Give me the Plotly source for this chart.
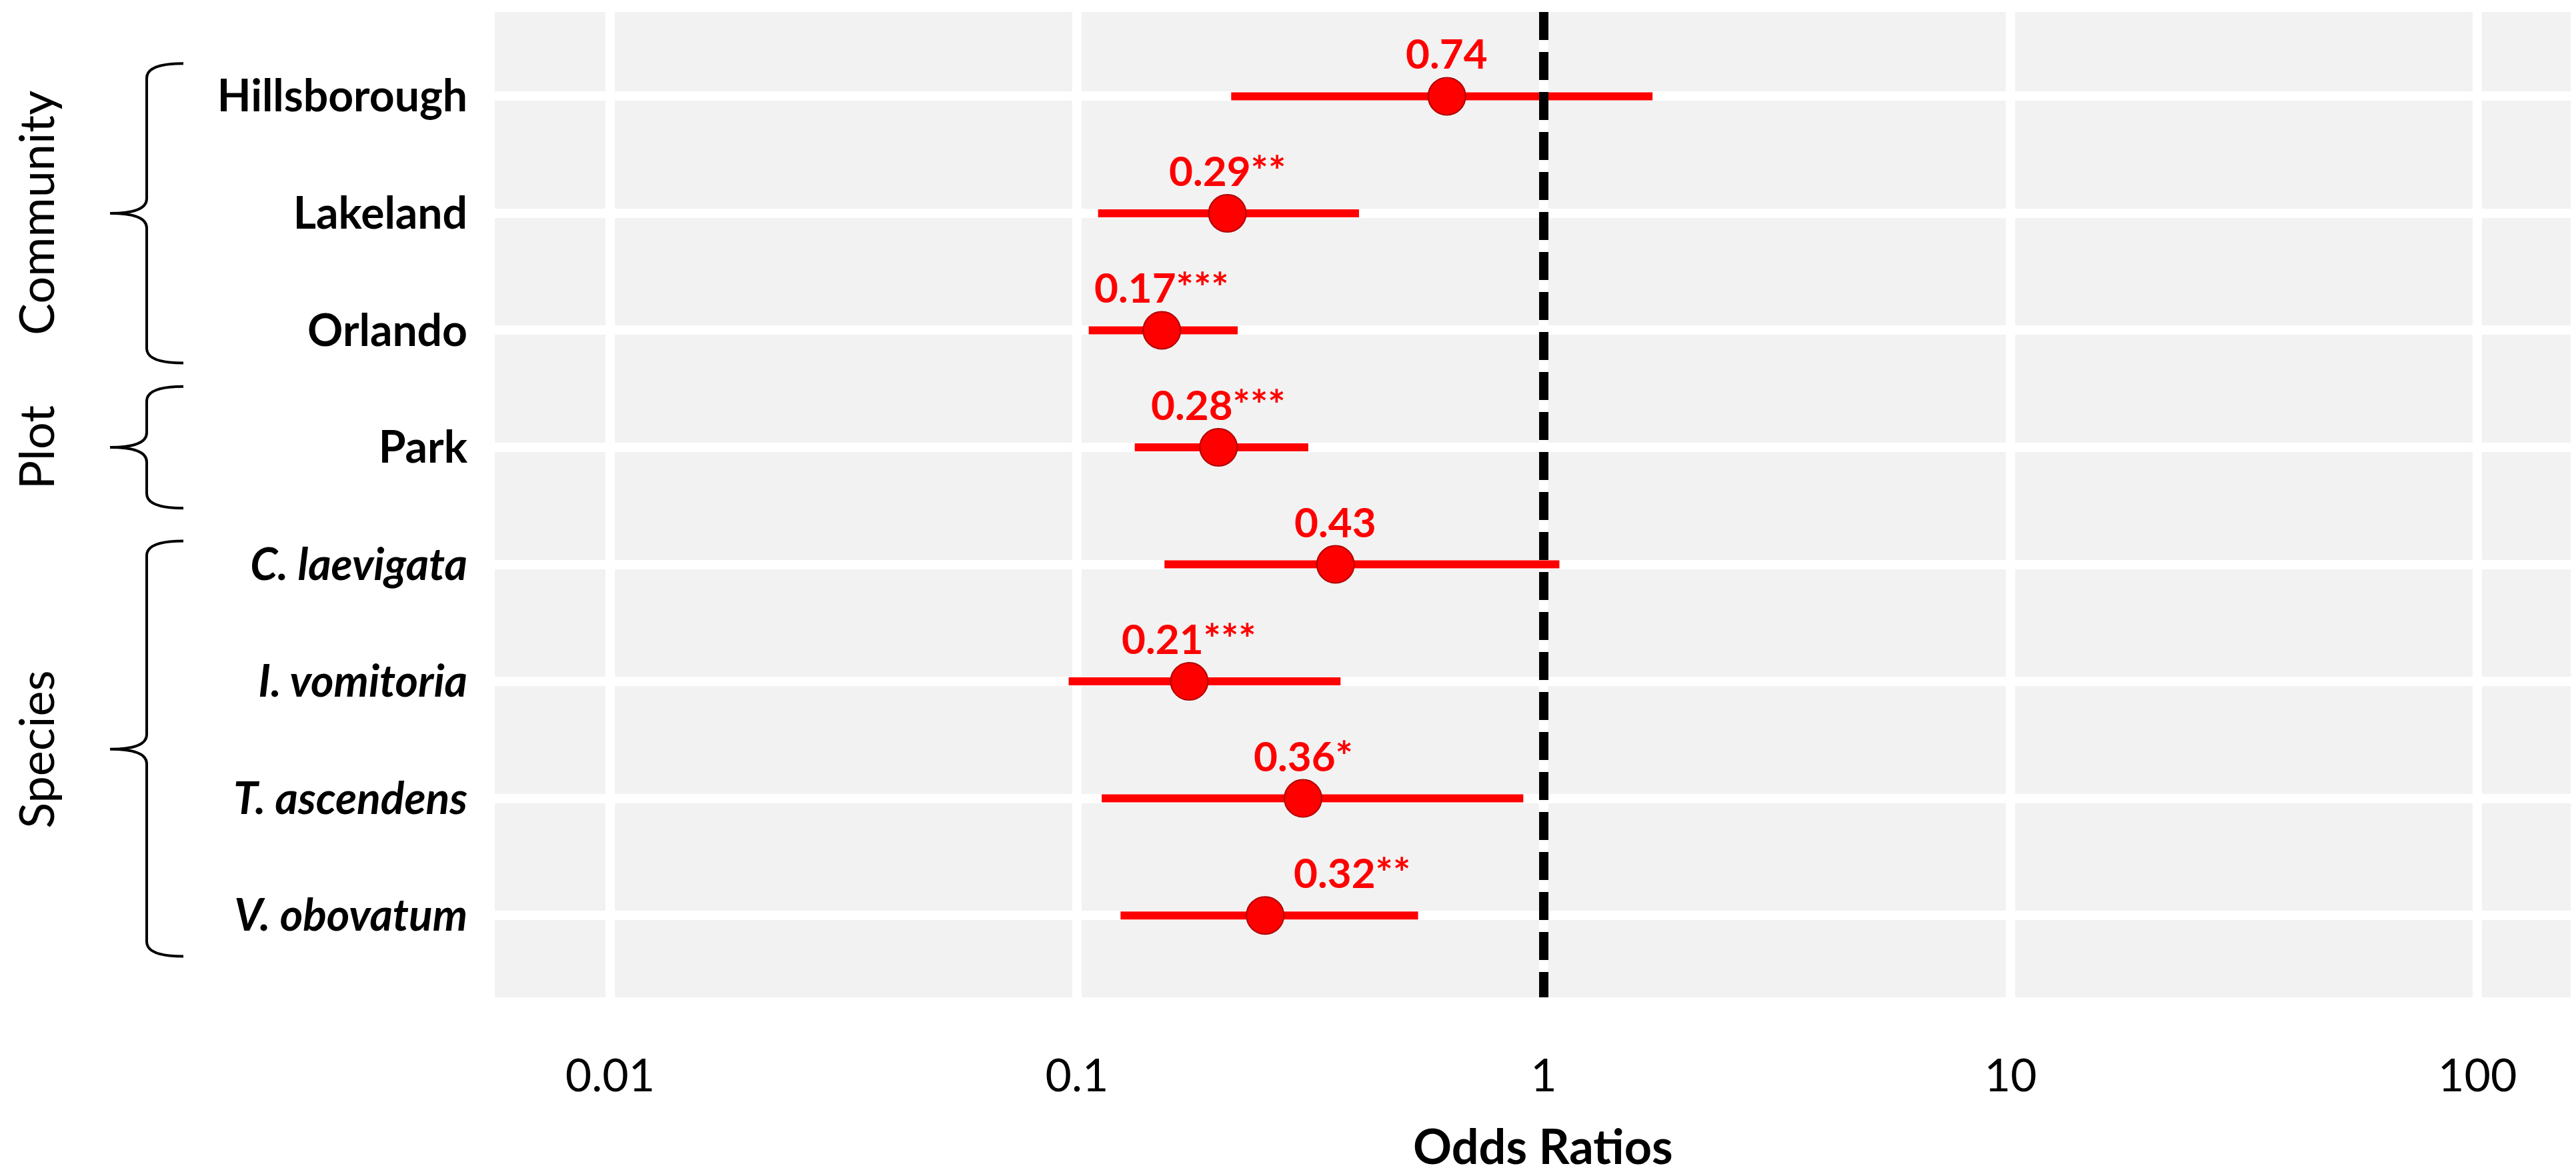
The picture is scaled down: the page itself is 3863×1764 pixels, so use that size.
import numpy as np
import plotly.graph_objects as go

rows = ["Hillsborough", "Lakeland", "Orlando", "Park",
        "C. laevigata", "I. vomitoria", "T. ascendens", "V. obovatum"]
row_text = ["<b>Hillsborough</b>", "<b>Lakeland</b>", "<b>Orlando</b>", "<b>Park</b>",
            "<b><i>C. laevigata</i></b>", "<b><i>I. vomitoria</i></b>",
            "<b><i>T. ascendens</i></b>", "<b><i>V. obovatum</i></b>"]
odds = [0.62, 0.21, 0.152, 0.201, 0.358, 0.174, 0.305, 0.253]
ci_low = [0.214, 0.111, 0.106, 0.133, 0.154, 0.096, 0.113, 0.124]
ci_high = [1.71, 0.402, 0.221, 0.313, 1.08, 0.367, 0.904, 0.538]
or_labels = ["0.74", "0.29**", "0.17***", "0.28***", "0.43", "0.21***", "0.36*", "0.32**"]

groups = ["Community", "Plot", "Species"]
# brace extent in row units: top, bottom, middle
group_span = [(-0.28, 2.28, 1.0), (2.48, 3.52, 3.0), (3.8, 7.35, 5.58)]

x_ticks = [0.01, 0.1, 1, 10, 100]
x_ticktext = ["0.01", "0.1", "1", "10", "100"]

W, H = 3863, 1764
L, R, T, B = 734, 3850, 10, 1488
y_lo, y_hi = -0.72, 7.70

def paper_x(p):
    return (p - L) / (R - L)

def paper_y(p):
    return (B - p) / (B - T)

def row_px(r):
    return T + (r - y_lo) / (y_hi - y_lo) * (B - T)

RED = "#FF0000"
FONT = "Lato"

fig = go.Figure()

fig.add_trace(go.Scatter(
    x=odds, y=rows, mode="markers",
    error_x=dict(type="data", symmetric=False,
                 array=[h - o for h, o in zip(ci_high, odds)],
                 arrayminus=[o - l for l, o in zip(ci_low, odds)],
                 color=RED, thickness=12, width=0),
    marker=dict(size=56, color=RED, line=dict(color="#B00000", width=2)),
    showlegend=False, hoverinfo="skip",
))

# dashed reference line at OR = 1
fig.add_shape(type="line", xref="x", yref="paper", x0=1, x1=1, y0=1, y1=0,
              line=dict(color="black", width=14, dash="42px,18px"))

# odds ratio labels
for i, (o, lab) in enumerate(zip(odds, or_labels)):
    fig.add_annotation(x=np.log10(o), y=rows[i], text="<b>" + lab + "</b>",
                       showarrow=False, yshift=65, xshift=130 if i == 7 else 0,
                       xanchor="center", yanchor="middle",
                       font=dict(family=FONT, size=62, color=RED))

# group braces and labels
xv, xh, xt, rr = 212, 267, 157, 22
for g, (top, bot, mid) in zip(groups, group_span):
    yt, yb, ym = row_px(top), row_px(bot), row_px(mid)
    pts = [
        ("M", [(xh, yt)]),
        ("Q", [(xv, yt), (xv, yt + rr)]),
        ("L", [(xv, ym - rr)]),
        ("Q", [(xv, ym), (xt, ym)]),
        ("Q", [(xv, ym), (xv, ym + rr)]),
        ("L", [(xv, yb - rr)]),
        ("Q", [(xv, yb), (xh, yb)]),
    ]
    path = " ".join(cmd + " " + " ".join("%.5f,%.5f" % (paper_x(a), paper_y(b)) for a, b in p)
                    for cmd, p in pts)
    fig.add_shape(type="path", xref="paper", yref="paper", path=path,
                  line=dict(color="black", width=4))
    fig.add_annotation(x=paper_x(45), y=paper_y(ym), xref="paper", yref="paper",
                       text=g, textangle=-90, showarrow=False,
                       xanchor="center", yanchor="middle",
                       font=dict(family=FONT, size=72, color="black"))

# x axis title
fig.add_annotation(x=paper_x(2306), y=paper_y(1710), xref="paper", yref="paper",
                   text="<b>Odds Ratios</b>", showarrow=False,
                   xanchor="center", yanchor="middle",
                   font=dict(family=FONT, size=72, color="black"))

fig.update_layout(
    width=W, height=H,
    margin=dict(l=L, r=W - R, t=T, b=H - B),
    paper_bgcolor="white",
    plot_bgcolor="#F2F2F2",
    font=dict(family=FONT, color="black"),
    xaxis=dict(
        type="log",
        range=[-2.247, 2.204],
        tickvals=x_ticks, ticktext=x_ticktext,
        tickfont=dict(size=68),
        ticks="", ticklabelstandoff=72,
        showgrid=True, gridcolor="white", gridwidth=14,
        zeroline=False, showline=False,
    ),
    yaxis=dict(
        type="category",
        categoryorder="array", categoryarray=rows,
        range=[y_hi, y_lo],
        tickvals=rows, ticktext=row_text,
        tickfont=dict(size=66),
        ticks="", ticklabelstandoff=40,
        showgrid=True, gridcolor="white", gridwidth=14,
        zeroline=False, showline=False,
    ),
)

fig.write_html("out.html")
